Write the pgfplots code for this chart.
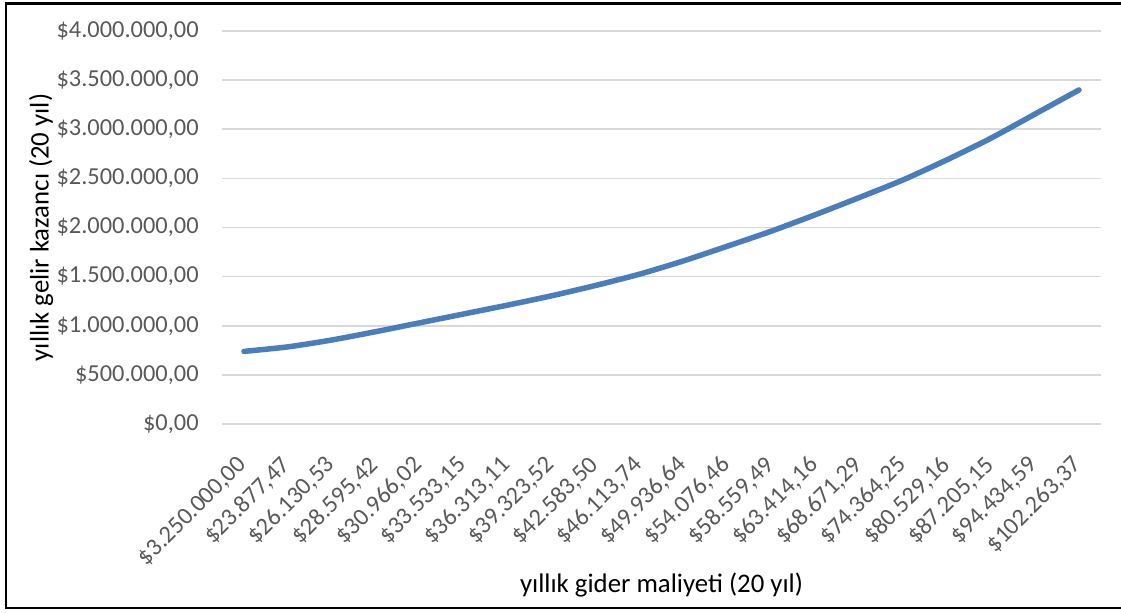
\documentclass[border=0pt]{standalone}
\usepackage{fontspec}
\setmainfont{Carlito}
\usepackage{pgfplots}
\pgfplotsset{compat=1.18}
\definecolor{linecol}{HTML}{4A7EBB}
\definecolor{gridcol}{HTML}{D9D9D9}
\definecolor{tickcol}{HTML}{595959}
\begin{document}
\begin{tikzpicture}
\useasboundingbox (0bp,0bp) rectangle (560.5bp,306.5bp);
\draw[black,line width=1.2bp] (3bp,2.5bp) rectangle (563bp,304.75bp);
\begin{axis}[
  at={(111bp,94.5bp)}, anchor=south west,
  scale only axis, width=439.5bp, height=196.5bp,
  xmin=-0.5, xmax=19.5, ymin=0, ymax=4000000,
  axis line style={draw=none},
  tick style={draw=none},
  major tick length=0pt,
  ymajorgrids, grid style={gridcol, line width=0.85bp},
  scaled y ticks=false,
  ytick={0,500000,1000000,1500000,2000000,2500000,3000000,3500000,4000000},
  yticklabels={{\$0,00},{\$500.000,00},{\$1.000.000,00},{\$1.500.000,00},{\$2.000.000,00},{\$2.500.000,00},{\$3.000.000,00},{\$3.500.000,00},{\$4.000.000,00}},
  xtick={0,...,19},
  xticklabels={{\$3.250.000,00},{\$23.877,47},{\$26.130,53},{\$28.595,42},{\$30.966,02},{\$33.533,15},{\$36.313,11},{\$39.323,52},{\$42.583,50},{\$46.113,74},{\$49.936,64},{\$54.076,46},{\$58.559,49},{\$63.414,16},{\$68.671,29},{\$74.364,25},{\$80.529,16},{\$87.205,15},{\$94.434,59},{\$102.263,37}},
  yticklabel style={font=\fontsize{12.2bp}{14bp}\selectfont, text=tickcol, inner sep=0pt, anchor=east, xshift=-11.5bp},
  xticklabel style={font=\fontsize{12.2bp}{14bp}\selectfont, text=tickcol, inner sep=0pt, xshift=-4bp, yshift=-15bp, rotate=45, anchor=north east},
  xlabel={yıllık gider maliyeti (20 yıl)},
  ylabel={yıllık gelir kazancı (20 yıl)},
  label style={font=\fontsize{13.4bp}{16bp}\selectfont, text=black},
  xlabel style={at={(axis description cs:0.5,-0.4097)}, anchor=center},
  ylabel style={at={(axis description cs:-0.2059,0.5)}, anchor=center},
]
\addplot[linecol, line width=2.75bp, line cap=round, smooth, tension=0.4] coordinates {
(0,739000) (1,785000) (2,855000) (3,940000) (4,1030000) (5,1120000) (6,1210000) (7,1305000) (8,1410000) (9,1525000) (10,1660000) (11,1810000) (12,1963000) (13,2130000) (14,2305000) (15,2485000) (16,2690000) (17,2910000) (18,3155000) (19,3400000)
};
\end{axis}
\end{tikzpicture}
\end{document}
